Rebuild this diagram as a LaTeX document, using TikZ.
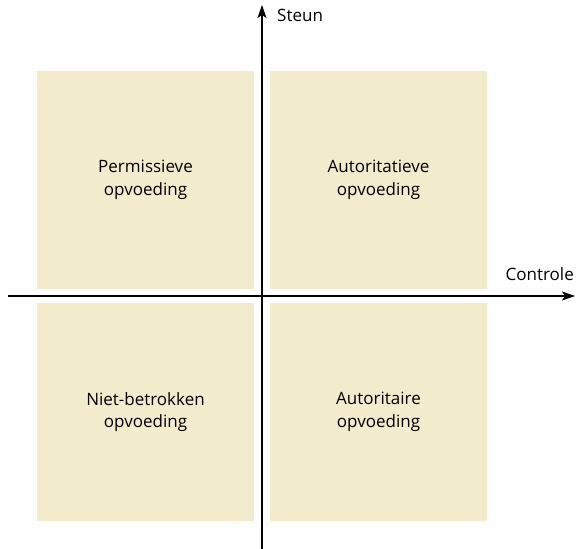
\documentclass[tikz,border=0pt]{standalone}
\usepackage{fontspec}
\setmainfont{Open Sans}
\usetikzlibrary{arrows.meta}
\definecolor{boxfill}{HTML}{F3ECCC}
\tikzset{
  quad/.style={fill=boxfill, draw=none, minimum width=217pt, minimum height=218pt, inner sep=0pt, align=center, font=\fontsize{17}{22.5}\selectfont},
  axis/.style={line width=1.2pt, -{Stealth[length=13pt,width=9pt,inset=3pt]}},
  axlabel/.style={font=\fontsize{17}{20}\selectfont, inner sep=0pt}
}
\begin{document}
\begin{tikzpicture}[x=1pt,y=-1pt]
\useasboundingbox (0,0) rectangle (576,549);
\node[quad] (pq) at (145.5,180) {Permissieve\\opvoeding};
\node[quad] (aq) at (378.5,180) {Autoritatieve\\opvoeding};
\node[quad] (nq) at (145.5,412) {Niet-betrokken\\opvoeding};
\node[quad] (uq) at (378.5,412) {Autoritaire\\opvoeding};
\coordinate (vb) at (262,549);
\coordinate (vt) at (262,5);
\coordinate (hl) at (8,296);
\coordinate (hr) at (575,296);
\draw[axis] (vb) -- (vt);
\draw[axis] (hl) -- (hr);
\node[axlabel, anchor=west] (steun) at (277,15) {Steun};
\node[axlabel, anchor=east] (contr) at (574,274) {Controle};
\end{tikzpicture}
\end{document}
